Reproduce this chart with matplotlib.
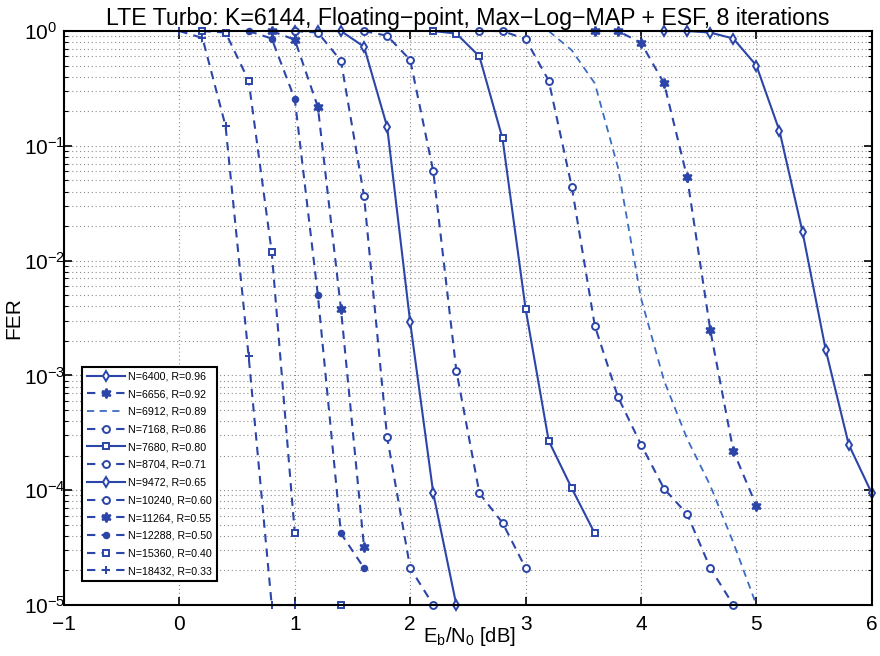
#!/usr/bin/env python3
import numpy as np
import matplotlib
matplotlib.use("Agg")
import matplotlib.pyplot as plt
from matplotlib.ticker import LogLocator, NullFormatter, FixedLocator

plt.rcParams['font.family'] = ['Liberation Sans', 'DejaVu Sans']
plt.rcParams['mathtext.fontset'] = 'custom'
plt.rcParams['mathtext.rm'] = 'Liberation Sans'
plt.rcParams['mathtext.it'] = 'Liberation Sans'

# ---------------- data ----------------
labels = ["N=6400, R=0.96", "N=6656, R=0.92", "N=6912, R=0.89", "N=7168, R=0.86",
          "N=7680, R=0.80", "N=8704, R=0.71", "N=9472, R=0.65", "N=10240, R=0.60",
          "N=11264, R=0.55", "N=12288, R=0.50", "N=15360, R=0.40", "N=18432, R=0.33"]

ebn0 = [
    [4.2, 4.4, 4.6, 4.8, 5.0, 5.2, 5.4, 5.6, 5.8, 6.0],
    [3.6, 3.8, 4.0, 4.2, 4.4, 4.6, 4.8, 5.0],
    [3.2, 3.4, 3.6, 3.8, 4.0, 4.2, 4.4, 4.6, 4.8, 5.0],
    [2.6, 2.8, 3.0, 3.2, 3.4, 3.6, 3.8, 4.0, 4.2, 4.4, 4.6, 4.8],
    [2.2, 2.4, 2.6, 2.8, 3.0, 3.2, 3.4, 3.6],
    [1.6, 1.8, 2.0, 2.2, 2.4, 2.6, 2.8, 3.0],
    [1.0, 1.2, 1.4, 1.6, 1.8, 2.0, 2.2, 2.4],
    [1.0, 1.2, 1.4, 1.6, 1.8, 2.0, 2.2],
    [0.8, 1.0, 1.2, 1.4, 1.6],
    [0.6, 0.8, 1.0, 1.2, 1.4, 1.6],
    [0.2, 0.4, 0.6, 0.8, 1.0, 1.2, 1.4],
    [0.0, 0.2, 0.4, 0.6, 0.8, 1.0],
]

fer = [
    [1.0, 1.0, 0.97, 0.86, 0.50, 0.135, 1.77e-2, 1.68e-3, 2.5e-4, 9.4e-5],
    [1.0, 1.0, 0.79, 0.35, 5.3e-2, 2.5e-3, 2.2e-4, 7.3e-5],
    [1.0, 0.68, 0.35, 6.5e-2, 4.7e-3, 9.0e-4, 2.8e-4, 1.1e-4, 3.5e-5, 1.0e-5],
    [1.0, 1.0, 0.85, 0.37, 4.4e-2, 2.7e-3, 6.5e-4, 2.5e-4, 1.03e-4, 6.2e-5, 2.1e-5, 1.0e-5],
    [1.0, 0.95, 0.60, 0.116, 3.8e-3, 2.7e-4, 1.04e-4, 4.2e-5],
    [1.0, 0.91, 0.56, 6.0e-2, 1.1e-3, 9.4e-5, 5.2e-5, 2.1e-5],
    [1.0, 1.0, 1.0, 0.73, 0.147, 2.9e-3, 9.4e-5, 1.0e-5],
    [1.0, 0.97, 0.55, 3.66e-2, 2.9e-4, 2.1e-5, 1.0e-5],
    [1.0, 0.84, 0.218, 3.8e-3, 3.2e-5],
    [1.0, 0.86, 0.255, 5.0e-3, 4.2e-5, 2.1e-5],
    [1.0, 0.97, 0.37, 1.19e-2, 4.2e-5, np.nan, 1.0e-5],
    [1.0, 0.87, 0.149, 1.47e-3, 1.0e-5, 1.0e-5],
]

hexagram = (6, 1, 0)
linestyles = ["-", "--", "--", "--", "-", "--", "-", "--", "--", "--", "--", "--"]
markers = ["d", hexagram, None, "o", "s", "o", "d", "o", hexagram, "o", "s", "+"]
filled = [False, True, False, False, False, False, False, False, True, True, False, False]
msizes = [5, 7, 0, 5, 5, 5, 5, 5, 7, 4, 5, 6]

blue = "#2B45A8"
light_blue = "#3C6CC2"


def main():
    fig = plt.figure(figsize=(8.8, 6.56), dpi=100)
    ax = fig.add_axes([0.0727, 0.0777, 0.918, 0.875])

    for i in range(len(labels)):
        col = light_blue if markers[i] is None else blue
        face = col if filled[i] else "white"
        ax.semilogy(ebn0[i], fer[i], linestyle=linestyles[i], color=col,
                    marker=markers[i],
                    markersize=msizes[i], markerfacecolor=face,
                    markeredgecolor=col, markeredgewidth=1.4,
                    linewidth=1.5 if markers[i] is not None else 1.3,
                    dashes=(4, 3) if linestyles[i] == "--" else (None, None),
                    label=labels[i], clip_on=False)

    ax.set_xlim(-1, 6)
    ax.set_ylim(1e-5, 1)
    ax.xaxis.set_major_locator(FixedLocator(np.arange(-1, 7, 1)))
    ax.yaxis.set_major_locator(LogLocator(base=10, numticks=10))
    ax.yaxis.set_minor_locator(LogLocator(base=10, subs=np.arange(2, 10), numticks=20))
    ax.yaxis.set_minor_formatter(NullFormatter())

    grid_ls = (0, (1, 2.5))
    ax.grid(True, which="major", linestyle=grid_ls, color="#8c8c8c", linewidth=0.8)
    ax.grid(True, which="minor", axis="y", linestyle=grid_ls, color="#8c8c8c", linewidth=0.8)
    ax.tick_params(which="both", direction="in", top=True, right=True, labelsize=15)
    ax.tick_params(which="major", length=6, width=1.2)
    ax.tick_params(which="minor", length=3, width=0.8)
    ax.tick_params(axis="y", pad=29)
    ax.tick_params(axis="x", pad=7)
    for lab in ax.get_yticklabels():
        lab.set_horizontalalignment("left")
    for sp in ax.spines.values():
        sp.set_linewidth(1.5)

    ax.set_xlabel(r"$\mathregular{E_b/N_0}$ [dB]", fontsize=14.5)
    ax.xaxis.set_label_coords(0.502, -0.034)
    ax.set_ylabel("FER", fontsize=15)
    ax.yaxis.set_label_coords(-0.05, 0.5)
    ax.set_title("LTE Turbo: K=6144, Floating\u2212point, Max\u2212Log\u2212MAP + ESF, 8 iterations",
                 fontsize=16.7, pad=4)

    leg = ax.legend(loc="lower left", bbox_to_anchor=(0.022, 0.042), borderaxespad=0,
                    fontsize=7.7, fancybox=False, framealpha=1, edgecolor="black",
                    handlelength=3.6, labelspacing=0.72, borderpad=0.45, handletextpad=0.3)
    leg.get_frame().set_linewidth(1.5)

    plt.savefig("out.png", dpi=100)


if __name__ == "__main__":
    main()
